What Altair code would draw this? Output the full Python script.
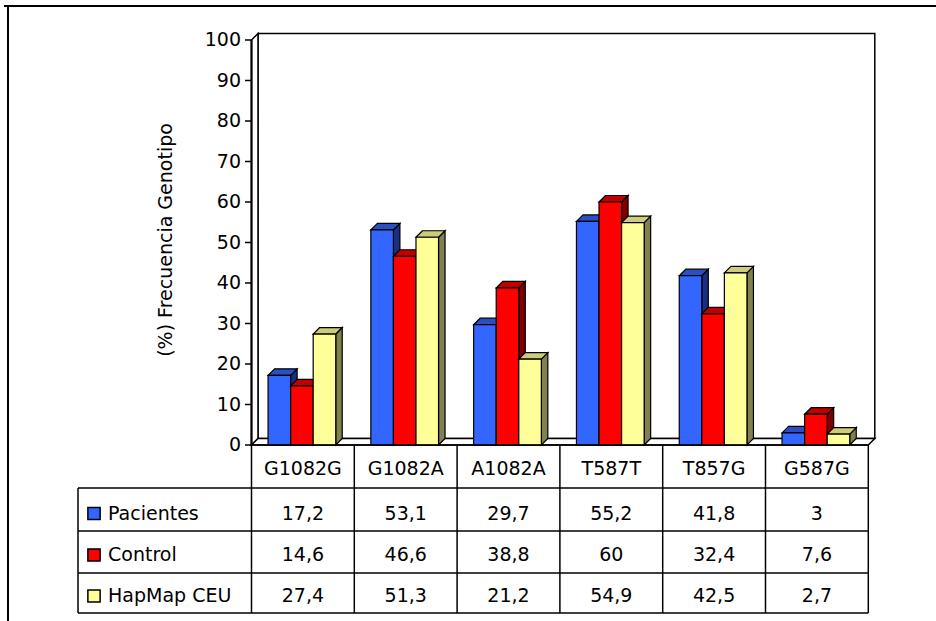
import altair as alt
import pandas as pd

# ---- data -------------------------------------------------------------
categories = ["G1082G", "G1082A", "A1082A", "T587T", "T857G", "G587G"]
series_names = ["Pacientes", "Control", "HapMap CEU"]
pacientes = [17.2, 53.1, 29.7, 55.2, 41.8, 3]
control = [14.6, 46.6, 38.8, 60, 32.4, 7.6]
hapmap_ceu = [27.4, 51.3, 21.2, 54.9, 42.5, 2.7]
series_values = [pacientes, control, hapmap_ceu]
y_ticks = [0, 10, 20, 30, 40, 50, 60, 70, 80, 90, 100]
y_title = "(%) Frecuencia Genotipo"

# face colours per series: front, top, side
front_colors = ["#3366FF", "#FF0000", "#FFFF99"]
top_colors = ["#2A4FC4", "#C00000", "#CCCC7A"]
side_colors = ["#1B2F80", "#800000", "#808050"]

# ---- layout (pixels) --------------------------------------------------
W, H = 936, 621
X0, COL = 251.5, 102.8       # left edge of the first category, column width
Y0, UNIT = 445.0, 4.05       # baseline, pixels per percentage point
DX_PX, DY_PX = 6.5, 6.5      # 3-D depth offset
BAR_START, BAR_W = 0.161, 0.2195
FONT = "DejaVu Sans"
FS = 19
TABLE_LEFT = 78
ROW_EDGES = [445, 488, 531, 573, 613]
HEADER_Y = 468.5
ROW_TEXT_Y = [513.5, 555, 596]


def ux(p):
    return (p - X0) / COL


def uy(p):
    return (Y0 - p) / UNIT


DX = DX_PX / COL
DY = DY_PX / UNIT
N = len(categories)

xs = alt.Scale(domain=[ux(0), ux(W)], nice=False, zero=False)
ys = alt.Scale(domain=[uy(H), uy(0)], nice=False, zero=False)


def X(f):
    return alt.X(f, type="quantitative", scale=xs, axis=None)


def Y(f):
    return alt.Y(f, type="quantitative", scale=ys, axis=None)


layers = []

# outer frame (top and left edges)
frame = pd.DataFrame([
    {"x": ux(4), "x2": ux(W), "y": uy(6), "y2": uy(6)},
    {"x": ux(8), "x2": ux(8), "y": uy(6), "y2": uy(H)},
])
layers.append(alt.Chart(frame).mark_rule(color="black", strokeWidth=2).encode(
    x=X("x"), x2="x2", y=Y("y"), y2="y2"))

# back wall
wall = pd.DataFrame([{"x": DX, "x2": N + DX, "y": DY, "y2": 100 + DY}])
layers.append(alt.Chart(wall).mark_rect(fill="white", stroke="black", strokeWidth=1.5).encode(
    x=X("x"), x2="x2", y=Y("y"), y2="y2"))

# left side wall
side_wall = pd.DataFrame([
    {"x": 0, "y": 100, "y2": 0},
    {"x": DX, "y": 100 + DY, "y2": DY},
])
layers.append(alt.Chart(side_wall).mark_area(orient="vertical", fill="white", stroke="black",
                                            strokeWidth=1.5).encode(
    x=X("x"), y=Y("y"), y2="y2"))

# floor
floor = pd.DataFrame([
    {"y": 0, "x": 0, "x2": N},
    {"y": DY, "x": DX, "x2": N + DX},
])
layers.append(alt.Chart(floor).mark_area(orient="horizontal", fill="white", stroke="black",
                                        strokeWidth=1.5).encode(
    y=Y("y"), x=X("x"), x2="x2"))

# value axis: line, ticks, labels, title
axis_line = pd.DataFrame([{"x": 0, "y": 0, "y2": 100}])
layers.append(alt.Chart(axis_line).mark_rule(color="black", strokeWidth=2).encode(
    x=X("x"), y=Y("y"), y2="y2"))
ticks = pd.DataFrame({"v": y_ticks, "x": ux(245), "x2": 0.0, "lx": ux(241),
                      "label": [str(t) for t in y_ticks]})
layers.append(alt.Chart(ticks).mark_rule(color="black", strokeWidth=1.5).encode(
    x=X("x"), x2="x2", y=Y("v")))
layers.append(alt.Chart(ticks).mark_text(font=FONT, fontSize=FS, align="right",
                                         baseline="middle", color="black").encode(
    x=X("lx"), y=Y("v"), text="label:N"))
title = pd.DataFrame([{"x": ux(166), "y": uy(240), "t": y_title}])
layers.append(alt.Chart(title).mark_text(font=FONT, fontSize=FS, angle=270, align="center",
                                         baseline="middle", color="black").encode(
    x=X("x"), y=Y("y"), text="t:N"))

# 3-D bars, drawn series by series so each bar covers the side of its left neighbour
for s, vals in enumerate(series_values):
    fronts, tops, sides = [], [], []
    for i, v in enumerate(vals):
        x0 = i + BAR_START + s * BAR_W
        x1 = x0 + BAR_W
        bid = f"{categories[i]}-{s}"
        fronts.append({"x0": x0, "x1": x1, "v": v, "base": 0.0})
        tops.append({"bar": bid, "y": v, "xa": x0, "xb": x1})
        tops.append({"bar": bid, "y": v + DY, "xa": x0 + DX, "xb": x1 + DX})
        sides.append({"bar": bid, "x": x1, "ya": v, "yb": 0.0})
        sides.append({"bar": bid, "x": x1 + DX, "ya": v + DY, "yb": DY})
    layers.append(alt.Chart(pd.DataFrame(sides)).mark_area(
        orient="vertical", fill=side_colors[s], stroke="black", strokeWidth=1.2).encode(
        x=X("x"), y=Y("ya"), y2="yb", detail="bar:N"))
    layers.append(alt.Chart(pd.DataFrame(tops)).mark_area(
        orient="horizontal", fill=top_colors[s], stroke="black", strokeWidth=1.2).encode(
        y=Y("y"), x=X("xa"), x2="xb", detail="bar:N"))
    layers.append(alt.Chart(pd.DataFrame(fronts)).mark_rect(
        fill=front_colors[s], stroke="black", strokeWidth=1.2).encode(
        x=X("x0"), x2="x1", y=Y("base"), y2="v"))

# data table grid
grid = []
grid.append({"x": 0, "x2": N, "y": uy(ROW_EDGES[0]), "y2": uy(ROW_EDGES[0])})
for e in ROW_EDGES[1:]:
    grid.append({"x": ux(TABLE_LEFT), "x2": N, "y": uy(e), "y2": uy(e)})
grid.append({"x": ux(TABLE_LEFT), "x2": ux(TABLE_LEFT),
             "y": uy(ROW_EDGES[1]), "y2": uy(ROW_EDGES[-1])})
for c in range(N + 1):
    grid.append({"x": c, "x2": c, "y": uy(ROW_EDGES[0]), "y2": uy(ROW_EDGES[-1])})
layers.append(alt.Chart(pd.DataFrame(grid)).mark_rule(color="black", strokeWidth=1.5).encode(
    x=X("x"), x2="x2", y=Y("y"), y2="y2"))

# table header (categories)
header = pd.DataFrame({"x": [i + 0.5 for i in range(N)], "y": uy(HEADER_Y), "t": categories})
layers.append(alt.Chart(header).mark_text(font=FONT, fontSize=FS, align="center",
                                          baseline="middle", color="black").encode(
    x=X("x"), y=Y("y"), text="t:N"))

# table body: legend swatch, series name and the values
cells, names, swatches = [], [], []
for s, vals in enumerate(series_values):
    ty = uy(ROW_TEXT_Y[s])
    names.append({"x": ux(108), "y": ty, "t": series_names[s]})
    swatches.append({"x": ux(94), "y": ty, "c": front_colors[s], "name": series_names[s]})
    for i, v in enumerate(vals):
        cells.append({"x": i + 0.5, "y": ty, "t": str(v).replace(".", ",")})
layers.append(alt.Chart(pd.DataFrame(cells)).mark_text(font=FONT, fontSize=FS, align="center",
                                                       baseline="middle", color="black").encode(
    x=X("x"), y=Y("y"), text="t:N"))
layers.append(alt.Chart(pd.DataFrame(names)).mark_text(font=FONT, fontSize=FS, align="left",
                                                       baseline="middle", color="black").encode(
    x=X("x"), y=Y("y"), text="t:N"))
layers.append(alt.Chart(pd.DataFrame(swatches)).mark_square(size=150, stroke="black", strokeWidth=1.5,
                                                            opacity=1).encode(
    x=X("x"), y=Y("y"),
    fill=alt.Fill("name:N", scale=alt.Scale(domain=series_names, range=front_colors), legend=None)))

chart = alt.layer(*layers).properties(
    width=W, height=H, padding=0, autosize="none", background="white"
).configure_view(stroke=None)

chart.save("out.html", embed_options={"renderer": "svg", "actions": False})
